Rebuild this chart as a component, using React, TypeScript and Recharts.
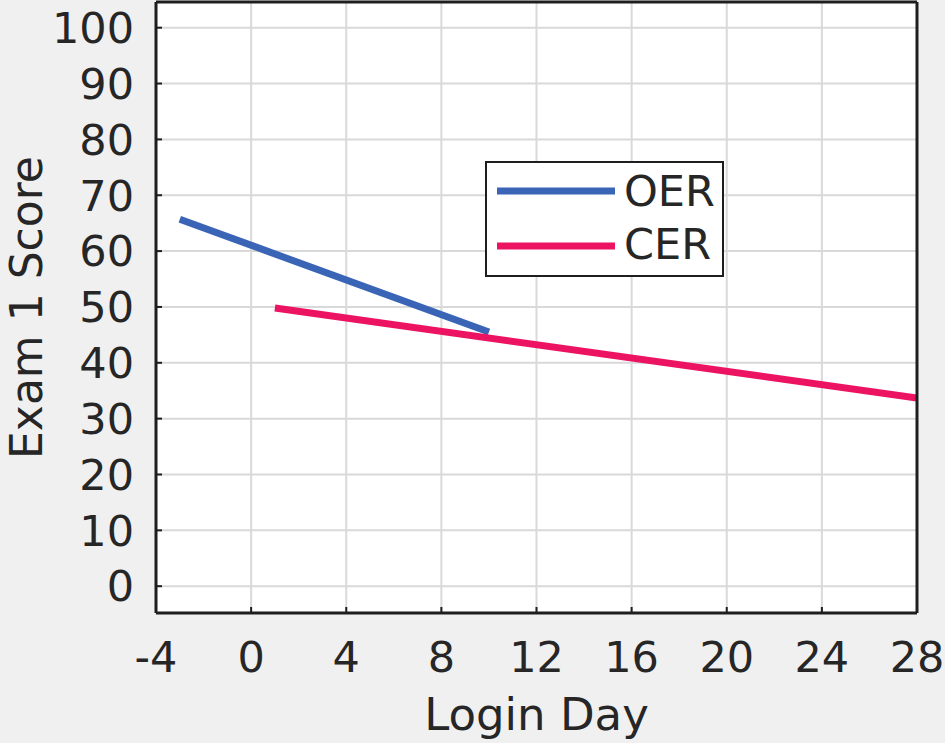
import React from 'react';
import { LineChart, Line, XAxis, YAxis, CartesianGrid, Legend } from 'recharts';

const oerDays = [-3, 10];
const oerScores = [65.7, 45.5];
const cerDays = [1, 28];
const cerScores = [49.8, 33.7];
const xTicks = [-4, 0, 4, 8, 12, 16, 20, 24, 28];
const yTicks = [0, 10, 20, 30, 40, 50, 60, 70, 80, 90, 100];
const seriesNames = ['OER', 'CER'];
const seriesColors = ['#3A64B6', '#EC1462'];

const oerData = oerDays.map((d, i) => ({ day: d, score: oerScores[i] }));
const cerData = cerDays.map((d, i) => ({ day: d, score: cerScores[i] }));

const FONT = "'DejaVu Sans', sans-serif";
const TEXT = '#262626';
const AXIS = '#1e1e1e';

const renderLegend = () => (
  <svg width={240} height={117} style={{ display: 'block' }}>
    <rect x={1} y={1} width={237} height={114} fill="#fff" stroke={AXIS} strokeWidth={2} />
    {seriesNames.map((n, i) => (
      <g key={n}>
        <line x1={12} x2={130} y1={30 + i * 55} y2={30 + i * 55} stroke={seriesColors[i]} strokeWidth={7} />
        <text x={139} y={45 + i * 53} fontSize={43} fontFamily={FONT} fill={TEXT}>{n}</text>
      </g>
    ))}
  </svg>
);

const YLabel = (props: any) => {
  const vb = props.viewBox || {};
  const cy = (vb.y ?? 2) + (vb.height ?? 611) / 2;
  return (
    <text x={42} y={cy} transform={`rotate(-90, 42, ${cy})`} textAnchor="middle" fontSize={44} fontFamily={FONT} fill={TEXT}>
      Exam 1 Score
    </text>
  );
};

const XLabel = (props: any) => {
  const vb = props.viewBox || {};
  const cx = (vb.x ?? 156) + (vb.width ?? 761) / 2;
  return (
    <text x={cx} y={730} textAnchor="middle" fontSize={45} fontFamily={FONT} fill={TEXT}>
      Login Day
    </text>
  );
};

export default function App() {
  const tickStyle = { fill: TEXT, fontSize: 43, fontFamily: FONT };
  return (
    <div style={{ width: 945, height: 743, background: '#f0f0f0' }}>
      <style>{`body{margin:0}`}</style>
      <LineChart width={945} height={743} margin={{ top: 1, right: 27, bottom: 0, left: 0 }}>
        <CartesianGrid fill="#ffffff" stroke="#d9d9d9" strokeWidth={2} />
        <XAxis
          type="number"
          dataKey="day"
          domain={[-4, 28]}
          ticks={xTicks}
          allowDataOverflow
          height={130}
          tick={tickStyle}
          tickSize={-6}
          tickMargin={34}
          axisLine={{ stroke: AXIS, strokeWidth: 3 }}
          tickLine={{ stroke: AXIS, strokeWidth: 2 }}
          label={<XLabel />}
        />
        <XAxis
          xAxisId="top"
          orientation="top"
          type="number"
          dataKey="day"
          domain={[-4, 28]}
          ticks={xTicks}
          allowDataOverflow
          height={1}
          tick={false}
          tickSize={-6}
          axisLine={{ stroke: AXIS, strokeWidth: 3 }}
          tickLine={{ stroke: AXIS, strokeWidth: 2 }}
        />
        <YAxis
          type="number"
          domain={[-4.8, 104.6]}
          ticks={yTicks}
          allowDataOverflow
          width={156}
          tick={tickStyle}
          tickSize={-6}
          tickMargin={28}
          axisLine={{ stroke: AXIS, strokeWidth: 3 }}
          tickLine={{ stroke: AXIS, strokeWidth: 2 }}
          label={<YLabel />}
        />
        <YAxis
          yAxisId="right"
          orientation="right"
          type="number"
          domain={[-4.8, 104.6]}
          ticks={yTicks}
          allowDataOverflow
          width={1}
          tick={false}
          tickSize={-6}
          axisLine={{ stroke: AXIS, strokeWidth: 3 }}
          tickLine={{ stroke: AXIS, strokeWidth: 2 }}
        />
        <Line data={oerData} dataKey="score" name="OER" stroke={seriesColors[0]} strokeWidth={7} dot={false} activeDot={false} isAnimationActive={false} />
        <Line data={cerData} dataKey="score" name="CER" stroke={seriesColors[1]} strokeWidth={7} dot={false} activeDot={false} isAnimationActive={false} />
        <Legend
          layout="horizontal"
          verticalAlign="middle"
          align="center"
          content={renderLegend}
          wrapperStyle={{ left: 485, top: 161, width: 240, height: 117 }}
        />
      </LineChart>
    </div>
  );
}
